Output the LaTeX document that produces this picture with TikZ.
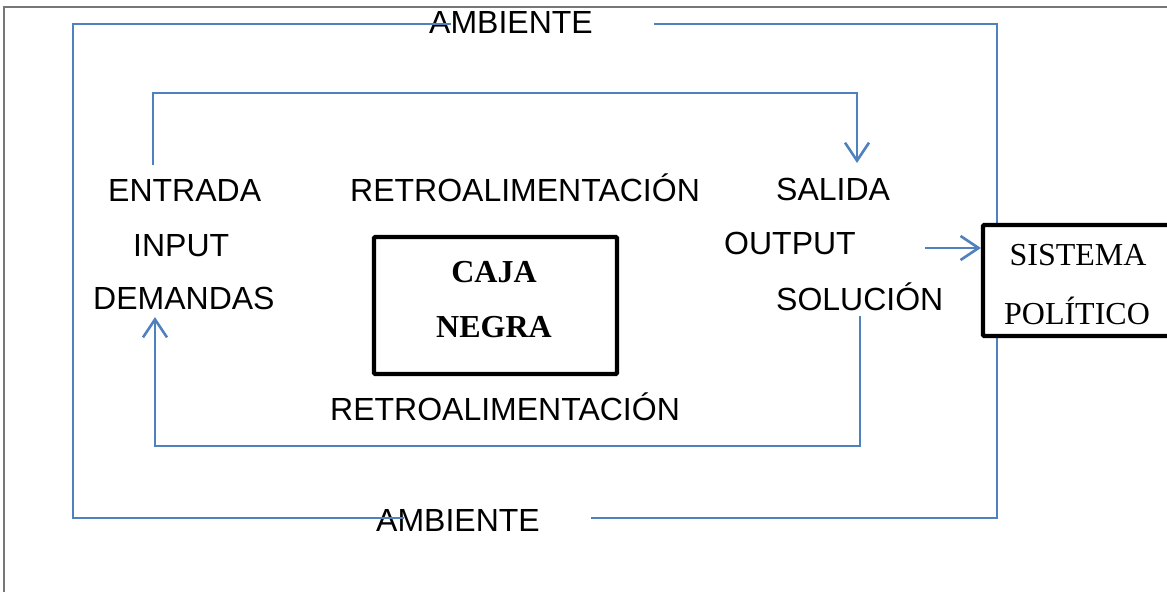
\documentclass[tikz,border=0pt]{standalone}
\usepackage{fontspec}
\setmainfont{Liberation Sans}
\newfontfamily\tnrfont{Liberation Serif}
\usetikzlibrary{arrows.meta}
\definecolor{lineblue}{RGB}{79,129,189}
\definecolor{framegray}{RGB}{118,118,118}
\begin{document}
\begin{tikzpicture}[x=1pt,y=-1pt,
  lbl/.style={anchor=base west, inner sep=0pt, font=\fontsize{32}{38}\selectfont},
  ser/.style={anchor=base, inner sep=0pt, font=\tnrfont\fontsize{32}{38}\selectfont},
  serb/.style={ser, font=\tnrfont\bfseries\fontsize{32}{38}\selectfont},
  conn/.style={draw=lineblue, line width=2.6pt},
  arr/.style={conn, -{Straight Barb[length=18pt,width=24pt]}},
  thickbox/.style={draw=black, line width=4.2pt, fill=white, inner sep=0pt, rounded corners=1pt}]

\useasboundingbox (0,0) rectangle (1167,592);
\draw[framegray, line width=2pt] (4,592) -- (4,7) -- (1168,7);

% labels
\node[lbl] (ambT) at (429,33) {AMBIENTE};
\node[lbl] (ambB) at (376,531) {AMBIENTE};
\node[lbl] (entrada) at (108,201) {ENTRADA};
\node[lbl] (input) at (133,256) {INPUT};
\node[lbl] (demandas) at (93,309) {DEMANDAS};
\node[lbl] (retroT) at (350,201) {RETROALIMENTACIÓN};
\node[lbl] (retroB) at (330,420) {RETROALIMENTACIÓN};
\node[lbl] (salida) at (776,200) {SALIDA};
\node[lbl] (output) at (724,254) {OUTPUT};
\node[lbl] (solucion) at (776,310) {SOLUCIÓN};

% outer environment loop
\coordinate (aTl) at (451,24);
\coordinate (aTr) at (654,24);
\coordinate (aBl) at (404,518);
\coordinate (aBr) at (591,518);
\draw[conn] (aTl) -- (73,24) -- (73,518) -- (aBl);
\draw[conn] (aTr) -- (997,24) -- (997,518) -- (aBr);

% feedback loops
\coordinate (fTs) at (153,165);
\coordinate (fTe) at (857,163);
\draw[arr] (fTs) -- (153,93) -- (857,93) -- (fTe);
\coordinate (fBs) at (860,316);
\coordinate (fBe) at (155,317);
\draw[arr] (fBs) -- (860,446) -- (155,446) -- (fBe);

% black box
\node[thickbox, minimum width=243pt, minimum height=137pt] (caja) at (495.5,305.5) {};
\node[serb] (cajaT) at (494,282) {CAJA};
\node[serb] (negraT) at (494,337) {NEGRA};

% political system
\node[thickbox, minimum width=202pt, minimum height=111pt] (sis) at (1084,280.5) {};
\node[ser] (sisT) at (1078,265) {SISTEMA};
\node[ser] (polT) at (1077,324) {POLÍTICO};

\coordinate (outR) at (925,248);
\draw[arr] (outR) -- (outR -| sis.west);
\end{tikzpicture}
\end{document}
